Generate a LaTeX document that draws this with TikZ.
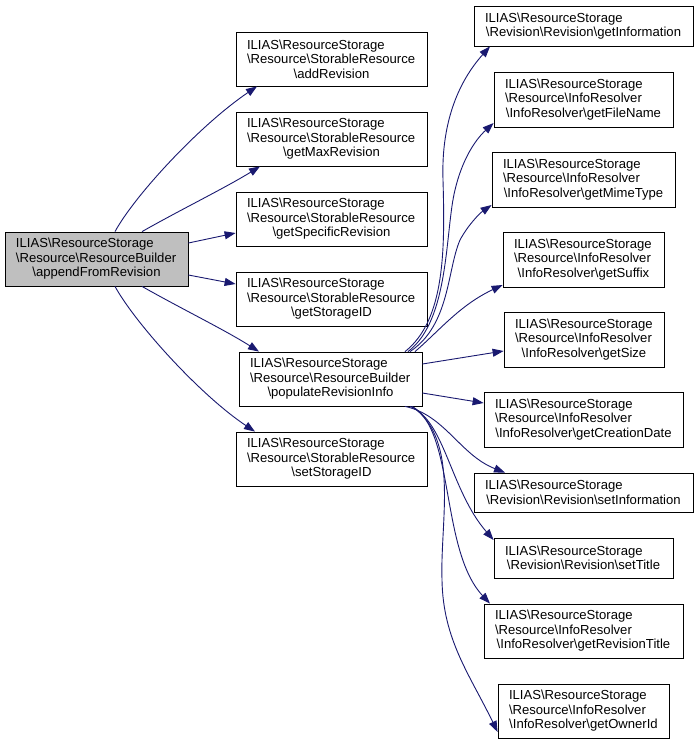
\documentclass[tikz,border=0pt]{standalone}
\usepackage{fontspec}
\setmainfont{Liberation Sans}
\usetikzlibrary{arrows.meta}
\definecolor{edgeblue}{RGB}{25,25,112}
\definecolor{rootgray}{RGB}{191,191,191}
\newcommand\bs{\textbackslash}
\newcommand\LblThree[4]{\makebox[#1pt][l]{#2}\\\makebox[#1pt][l]{#3}\\\makebox[#1pt]{#4}}
\newcommand\LblTwo[3]{\makebox[#1pt][l]{#2}\\\makebox[#1pt]{#3}}
\begin{document}
\begin{tikzpicture}[x=1pt,y=-1pt,
  box/.style={draw=black, line width=0.8pt, inner sep=0pt, align=center,
    font={\fontsize{13.1}{14.6}\selectfont}},
  edge/.style={draw=edgeblue, line width=0.9pt, -{Triangle[length=11pt,width=8pt]}}]
\useasboundingbox (0,0) rectangle (699,745);
% left column
\node[box, fill=rootgray, minimum width=183, minimum height=54] (root) at (96.5,259)
  {\LblThree{161}{ILIAS\bs ResourceStorage}{\bs Resource\bs ResourceBuilder}{\bs appendFromRevision}};
% middle column
\node[box, minimum width=191, minimum height=54] (addRev) at (331.5,59)
  {\LblThree{169}{ILIAS\bs ResourceStorage}{\bs Resource\bs StorableResource}{\bs addRevision}};
\node[box, minimum width=191, minimum height=54] (getMax) at (331.5,139)
  {\LblThree{169}{ILIAS\bs ResourceStorage}{\bs Resource\bs StorableResource}{\bs getMaxRevision}};
\node[box, minimum width=191, minimum height=54] (getSpec) at (331.5,219)
  {\LblThree{169}{ILIAS\bs ResourceStorage}{\bs Resource\bs StorableResource}{\bs getSpecificRevision}};
\node[box, minimum width=191, minimum height=54] (getStor) at (331.5,299)
  {\LblThree{169}{ILIAS\bs ResourceStorage}{\bs Resource\bs StorableResource}{\bs getStorageID}};
\node[box, minimum width=183, minimum height=54] (populate) at (330.5,379)
  {\LblThree{161}{ILIAS\bs ResourceStorage}{\bs Resource\bs ResourceBuilder}{\bs populateRevisionInfo}};
\node[box, minimum width=191, minimum height=54] (setStor) at (331.5,459)
  {\LblThree{169}{ILIAS\bs ResourceStorage}{\bs Resource\bs StorableResource}{\bs setStorageID}};
% right column
\node[box, minimum width=219, minimum height=40] (getInfo) at (583.5,26)
  {\LblTwo{197}{ILIAS\bs ResourceStorage}{\bs Revision\bs Revision\bs getInformation}};
\node[box, minimum width=179, minimum height=55] (getFileName) at (583.5,99.5)
  {\LblThree{157}{ILIAS\bs ResourceStorage}{\bs Resource\bs InfoResolver}{\bs InfoResolver\bs getFileName}};
\node[box, minimum width=183, minimum height=55] (getMime) at (583.5,179.5)
  {\LblThree{161}{ILIAS\bs ResourceStorage}{\bs Resource\bs InfoResolver}{\bs InfoResolver\bs getMimeType}};
\node[box, minimum width=161, minimum height=55] (getSuffix) at (583.5,259.5)
  {\LblThree{139}{ILIAS\bs ResourceStorage}{\bs Resource\bs InfoResolver}{\bs InfoResolver\bs getSuffix}};
\node[box, minimum width=160, minimum height=55] (getSize) at (584,339.5)
  {\LblThree{138}{ILIAS\bs ResourceStorage}{\bs Resource\bs InfoResolver}{\bs InfoResolver\bs getSize}};
\node[box, minimum width=199, minimum height=55] (getCreation) at (583.5,419.5)
  {\LblThree{177}{ILIAS\bs ResourceStorage}{\bs Resource\bs InfoResolver}{\bs InfoResolver\bs getCreationDate}};
\node[box, minimum width=219, minimum height=39] (setInfo) at (583.5,492.5)
  {\LblTwo{197}{ILIAS\bs ResourceStorage}{\bs Revision\bs Revision\bs setInformation}};
\node[box, minimum width=179, minimum height=40] (setTitle) at (583.5,558)
  {\LblTwo{157}{ILIAS\bs ResourceStorage}{\bs Revision\bs Revision\bs setTitle}};
\node[box, minimum width=199, minimum height=54] (getRevTitle) at (583.5,631)
  {\LblThree{177}{ILIAS\bs ResourceStorage}{\bs Resource\bs InfoResolver}{\bs InfoResolver\bs getRevisionTitle}};
\node[box, minimum width=171, minimum height=54] (getOwner) at (583.5,711)
  {\LblThree{149}{ILIAS\bs ResourceStorage}{\bs Resource\bs InfoResolver}{\bs InfoResolver\bs getOwnerId}};
% edges from root
\draw[edge] ([xshift=18.5]root.north) .. controls (135,195) and (200,125) .. ([xshift=-74.5]addRev.south);
\draw[edge] ([xshift=45.5]root.north) .. controls (180,210) and (225,188) .. ([xshift=-71.5]getMax.south);
\draw[edge] ([yshift=16]root.east) -- ([yshift=-14]getSpec.west);
\draw[edge] ([yshift=-16]root.east) -- ([yshift=15]getStor.west);
\draw[edge] ([xshift=45.5]root.south) .. controls (180,308) and (225,330) .. ([xshift=-71.5]populate.north);
\draw[edge] ([xshift=18.5]root.south) .. controls (135,323) and (200,395) .. ([xshift=-76.5]setStor.north);
% edges from populate
\draw[edge] ([xshift=74.5]populate.north) .. controls (445,320) and (445,250) .. (443,180)
  .. controls (441,120) and (460,80) .. ([xshift=-93.5]getInfo.south);
\draw[edge] ([xshift=77.5]populate.north) .. controls (450,320) and (445,230) .. (455,190)
  .. controls (462,160) and (475,140) .. ([yshift=-23.5]getFileName.west);
\draw[edge] ([xshift=79.5]populate.north) .. controls (450,325) and (447,270) .. (460,240)
  .. controls (468,225) and (480,213) .. ([yshift=-25.5]getMime.west);
\draw[edge] ([xshift=84.5]populate.north) .. controls (440,330) and (460,305) .. ([yshift=-25.5]getSuffix.west);
\draw[edge] ([yshift=15]populate.east) -- ([yshift=-11.5]getSize.west);
\draw[edge] ([yshift=-14]populate.east) -- ([yshift=16.5]getCreation.west);
\draw[edge] ([xshift=74.5]populate.south) .. controls (445,415) and (460,455) .. ([xshift=-78.5]setInfo.north);
\draw[edge] ([xshift=79.5]populate.south) .. controls (445,420) and (450,490) .. ([yshift=18]setTitle.west);
\draw[edge] ([xshift=81.5]populate.south) .. controls (455,430) and (440,550) .. ([xshift=-93.5]getRevTitle.north);
\draw[edge] ([xshift=81.5]populate.south) .. controls (460,440) and (440,520) .. (442,580)
  .. controls (443,640) and (470,675) .. ([yshift=-21]getOwner.west);
\end{tikzpicture}
\end{document}
